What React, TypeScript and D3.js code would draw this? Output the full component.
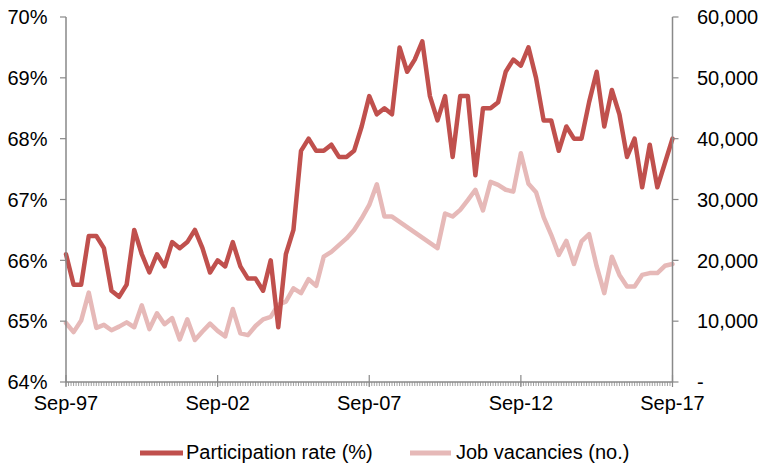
import React from "react";
import * as d3 from "d3";

// Quarterly observations, Sep-97 .. Sep-17 (81 quarters)
const startYear = 1997;
const startMonth = 8; // September (0-based)
const participationRate: number[] = [
  66.1, 65.6, 65.6, 66.4, 66.4, 66.2, 65.5, 65.4, 65.6, 66.5,
  66.1, 65.8, 66.1, 65.9, 66.3, 66.2, 66.3, 66.5, 66.2, 65.8,
  66.0, 65.9, 66.3, 65.9, 65.7, 65.7, 65.5, 66.0, 64.9, 66.1,
  66.5, 67.8, 68.0, 67.8, 67.8, 67.9, 67.7, 67.7, 67.8, 68.2,
  68.7, 68.4, 68.5, 68.4, 69.5, 69.1, 69.3, 69.6, 68.7, 68.3,
  68.7, 67.7, 68.7, 68.7, 67.4, 68.5, 68.5, 68.6, 69.1, 69.3,
  69.2, 69.5, 69.0, 68.3, 68.3, 67.8, 68.2, 68.0, 68.0, 68.6,
  69.1, 68.2, 68.8, 68.4, 67.7, 68.0, 67.2, 67.9, 67.2, 67.6,
  68.0,
];
const jobVacancies: (number | null)[] = [
  9700, 8200, 10100, 14700, 8900, 9400, 8500, 9100, 9800, 9000,
  12600, 8700, 11300, 9500, 10500, 7000, 10300, 6900, 8300, 9600,
  8400, 7500, 12000, 8000, 7700, 9200, 10300, 10700, 12700, 13200,
  15400, 14600, 16900, 15800, 20600, 21400, 22500, 23600, 25000, 26900,
  29100, 32500, 27200, 27200, null, null, null, null, null, 22000,
  27700, 27200, 28300, 29900, 31600, 28200, 32900, 32400, 31600, 31300,
  37600, 32600, 31200, 27100, 24200, 20900, 23200, 19400, 23100, 24300,
  19000, 14600, 20600, 17600, 15700, 15700, 17600, 17900, 17900, 19100,
  19400,
];
const xTickLabels = ["Sep-97", "Sep-02", "Sep-07", "Sep-12", "Sep-17"];
const leftTicks = [64, 65, 66, 67, 68, 69, 70];
const rightTicks = [0, 10000, 20000, 30000, 40000, 50000, 60000];
const seriesNames = ["Participation rate (%)", "Job vacancies (no.)"];

const RED = "#C0504D";
const PINK = "#E6B9B8";
const AXIS = "#898989";
const FONT = "'Liberation Sans', Arial, sans-serif";

export default function App() {
  const W = 759, H = 463;
  const left = 66, right = 672.5, top = 17, bottom = 382;
  const totalMonths = (participationRate.length - 1) * 3;
  const x = d3.scaleLinear().domain([0, totalMonths]).range([left, right]);
  const yL = d3.scaleLinear().domain([64, 70]).range([bottom, top]);
  const yR = d3.scaleLinear().domain([0, 60000]).range([bottom, top]);

  const prPts = participationRate.map((v, i) => [x(i * 3), yL(v)] as [number, number]);
  const jvPts = jobVacancies
    .map((v, i) => (v == null ? null : ([x(i * 3), yR(v)] as [number, number])))
    .filter((p): p is [number, number] => p !== null);
  const line = d3.line();

  const months = d3.range(0, totalMonths + 1);
  const majors = xTickLabels.map((_, i) => i * 60);
  const fmtR = (v: number) => (v === 0 ? "-" : d3.format(",")(v));

  return (
    <svg
      width={W}
      height={H}
      style={{ position: "absolute", left: 0, top: 0, display: "block", background: "#fff" }}
      fontFamily={FONT}
    >
      {/* series */}
      <path d={line(jvPts) || ""} fill="none" stroke={PINK} strokeWidth={4.5} strokeLinejoin="round" strokeLinecap="round" />
      <path d={line(prPts) || ""} fill="none" stroke={RED} strokeWidth={4.5} strokeLinejoin="round" strokeLinecap="round" />

      {/* left axis */}
      <line x1={left} x2={left} y1={top} y2={bottom} stroke={AXIS} strokeWidth={1.5} />
      {leftTicks.map((t) => (
        <g key={"l" + t}>
          <line x1={left - 6} x2={left} y1={yL(t)} y2={yL(t)} stroke={AXIS} strokeWidth={1.2} />
          <text x={47.5} y={yL(t)} dy="0.36em" textAnchor="end" fontSize={20} fill="#000">
            {t + "%"}
          </text>
        </g>
      ))}

      {/* right axis */}
      <line x1={right} x2={right} y1={top} y2={bottom} stroke={AXIS} strokeWidth={1.5} />
      {rightTicks.map((t) => (
        <g key={"r" + t}>
          <line x1={right} x2={right + 6} y1={yR(t)} y2={yR(t)} stroke={AXIS} strokeWidth={1.2} />
          <text x={697} y={yR(t)} dy="0.36em" textAnchor="start" fontSize={20} fill="#000">
            {fmtR(t)}
          </text>
        </g>
      ))}

      {/* x axis */}
      <line x1={left} x2={right} y1={bottom} y2={bottom} stroke={AXIS} strokeWidth={1.5} />
      {months.map((m) => (
        <line key={"m" + m} x1={x(m)} x2={x(m)} y1={bottom} y2={bottom + 4} stroke={AXIS} strokeWidth={0.8} />
      ))}
      {majors.map((m, i) => (
        <g key={"M" + m}>
          <line x1={x(m)} x2={x(m)} y1={bottom - 7} y2={bottom + 5} stroke={AXIS} strokeWidth={1.2} />
          <text x={x(m)} y={410} textAnchor="middle" fontSize={20} fill="#000">
            {xTickLabels[i]}
          </text>
        </g>
      ))}

      {/* legend */}
      <line x1={140} x2={183} y1={453} y2={453} stroke={RED} strokeWidth={5} />
      <text x={186} y={459} fontSize={20} fill="#000">{seriesNames[0]}</text>
      <line x1={410} x2={451} y1={453} y2={453} stroke={PINK} strokeWidth={5} />
      <text x={456} y={459} fontSize={20} fill="#000">{seriesNames[1]}</text>
    </svg>
  );
}
